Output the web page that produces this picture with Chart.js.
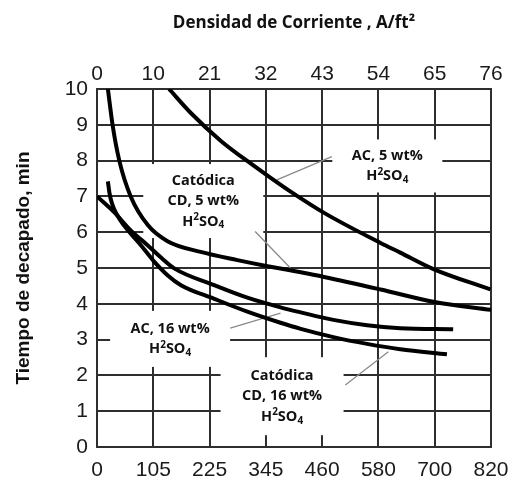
<!DOCTYPE html>
<html>
<head>
<meta charset="utf-8">
<script src="https://cdn.jsdelivr.net/npm/chart.js@4.4.1/dist/chart.umd.min.js"></script>
<style>
  html, body { margin: 0; padding: 0; background: #fff; }
  #wrap { width: 510px; height: 479px; }
</style>
</head>
<body>
<div id="wrap"><canvas id="chart"></canvas></div>
<script>
// x values are current density in A/ft2 (top axis), y values pickling time in min
var topTickLabels = ["0", "10", "21", "32", "43", "54", "65", "76"];
var bottomTickLabels = ["0", "105", "225", "345", "460", "580", "700", "820"];

var ac5Current = [13.9, 18.1, 23.9, 30.3, 32.9, 38.0, 43.8, 54.7, 58.5, 64.9, 75.9];
var ac5Time    = [10.0, 9.33, 8.55, 7.85, 7.58, 7.07, 6.54, 5.70, 5.43, 4.97, 4.40];

var cd5Current = [2.1, 3.0, 4.3, 6.5, 9.8, 13.6, 20.0, 27.1, 32.9, 39.3, 43.8, 54.7, 65.1, 76.0];
var cd5Time    = [10.0, 9.0, 8.0, 7.0, 6.2, 5.75, 5.45, 5.22, 5.05, 4.88, 4.75, 4.40, 4.05, 3.83];

var ac16Current = [0, 3.3, 6.5, 9.8, 12.6, 14.9, 22.6, 29.0, 35.4, 39.3, 45.6, 52.1, 58.5, 68.7];
var ac16Time    = [7.0, 6.56, 6.05, 5.63, 5.26, 4.99, 4.52, 4.17, 3.90, 3.76, 3.55, 3.40, 3.32, 3.29];

var cd16Current = [2.1, 2.4, 2.9, 3.8, 5.2, 8.5, 10.9, 13.6, 16.2, 22.6, 29.0, 35.4, 39.3, 45.6, 52.1, 58.5, 67.5];
var cd16Time    = [7.42, 7.1, 6.8, 6.5, 6.19, 5.63, 5.2, 4.8, 4.52, 4.14, 3.78, 3.47, 3.30, 3.07, 2.88, 2.73, 2.59];

var xMax = Number(topTickLabels[topTickLabels.length - 1]);
var tickValues = topTickLabels.map(function (_, i) { return i * xMax / (topTickLabels.length - 1); });

var gridColor = "#2e2e2e";
var tickFont = { family: "'Liberation Sans', Arial, sans-serif", size: 21 };

function zip(xs, ys) {
  return xs.map(function (x, i) { return { x: x, y: ys[i] }; });
}

function curve(label, xs, ys) {
  return {
    label: label,
    data: zip(xs, ys),
    borderColor: "#000",
    borderWidth: 4,
    pointRadius: 0,
    fill: false,
    cubicInterpolationMode: "monotone",
    borderCapStyle: "butt"
  };
}

// callouts: anchor in data units, box size in px
var notes = [
  { lines: ["Catódica", "CD, 5 wt%", "H²SO₄"], at: [20.5, 6.87], box: [120, 74], from: [30.5, 6.02], to: [37.3, 5.0] },
  { lines: ["AC, 5 wt%", "H²SO₄"], at: [56.0, 7.85], box: [110, 53], from: [45.3, 8.11], to: [34.7, 7.46] },
  { lines: ["AC, 16 wt%", "H²SO₄"], at: [14.1, 3.02], box: [120, 56], from: [25.7, 3.32], to: [35.4, 3.74] },
  { lines: ["Catódica", "CD, 16 wt%", "H²SO₄"], at: [35.7, 1.42], box: [123, 78], from: [47.9, 1.73], to: [56.2, 2.66] }
];

function drawRich(ctx, text, cx, cy, size) {
  var parts = [];
  for (var ch of text) {
    if (ch === "²") parts.push({ t: "2", d: -0.3 });
    else if (ch === "₄") parts.push({ t: "4", d: 0.28 });
    else if (parts.length && parts[parts.length - 1].d === 0) parts[parts.length - 1].t += ch;
    else parts.push({ t: ch, d: 0 });
  }
  var big = "bold " + size + "px 'Open Sans', sans-serif";
  var small = "bold " + Math.round(size * 0.72) + "px 'Open Sans', sans-serif";
  var w = 0;
  parts.forEach(function (p) {
    ctx.font = p.d ? small : big;
    p.w = ctx.measureText(p.t).width;
    w += p.w;
  });
  var x = cx - w / 2;
  ctx.textAlign = "left";
  ctx.textBaseline = "middle";
  parts.forEach(function (p) {
    ctx.font = p.d ? small : big;
    ctx.fillText(p.t, x, cy + p.d * size);
    x += p.w;
  });
}

var callouts = {
  id: "callouts",
  beforeDatasetsDraw: function (chart) {
    var ctx = chart.ctx, sx = chart.scales.x, sy = chart.scales.y;
    ctx.save();
    notes.forEach(function (n) {
      var cx = sx.getPixelForValue(n.at[0]);
      var cy = sy.getPixelForValue(n.at[1]);
      ctx.fillStyle = "#fff";
      ctx.fillRect(cx - n.box[0] / 2, cy - n.box[1] / 2, n.box[0], n.box[1]);

      ctx.strokeStyle = "#8a8a8a";
      ctx.lineWidth = 1.3;
      ctx.beginPath();
      ctx.moveTo(sx.getPixelForValue(n.from[0]), sy.getPixelForValue(n.from[1]));
      ctx.lineTo(sx.getPixelForValue(n.to[0]), sy.getPixelForValue(n.to[1]));
      ctx.stroke();

      ctx.fillStyle = "#111";
      var lh = 20.5;
      var y0 = cy - (n.lines.length - 1) * lh / 2;
      n.lines.forEach(function (t, i) { drawRich(ctx, t, cx, y0 + i * lh, 14.5); });
    });
    ctx.restore();
  }
};

new Chart(document.getElementById("chart"), {
  type: "line",
  data: {
    datasets: [
      curve("AC, 5 wt%", ac5Current, ac5Time),
      curve("Catódica CD, 5 wt%", cd5Current, cd5Time),
      curve("AC, 16 wt%", ac16Current, ac16Time),
      curve("Catódica CD, 16 wt%", cd16Current, cd16Time)
    ]
  },
  options: {
    responsive: true,
    maintainAspectRatio: false,
    animation: false,
    layout: { padding: { left: 0, right: 19, top: 0, bottom: 0 } },
    plugins: { legend: { display: false }, tooltip: { enabled: false } },
    scales: {
      x: {
        type: "linear",
        position: "bottom",
        min: 0,
        max: xMax,
        afterBuildTicks: function (s) { s.ticks = tickValues.map(function (v) { return { value: v }; }); },
        afterFit: function (s) { s.height = 32; s.paddingLeft = 0; s.paddingRight = 0; },
        ticks: {
          autoSkip: false,
          maxRotation: 0,
          padding: 11,
          color: "#1a1a1a",
          font: tickFont,
          callback: function (v, i) { return bottomTickLabels[i]; }
        },
        grid: { color: gridColor, lineWidth: 2, drawTicks: false },
        border: { color: gridColor, width: 2 }
      },
      x2: {
        type: "linear",
        position: "top",
        min: 0,
        max: xMax,
        afterBuildTicks: function (s) { s.ticks = tickValues.map(function (v) { return { value: v }; }); },
        afterFit: function (s) { s.height = 89; s.paddingLeft = 0; s.paddingRight = 0; },
        ticks: {
          autoSkip: false,
          maxRotation: 0,
          padding: 2,
          color: "#1a1a1a",
          font: tickFont,
          callback: function (v, i) { return topTickLabels[i]; }
        },
        grid: { display: false, drawTicks: false },
        border: { display: true, color: gridColor, width: 2 },
        title: {
          display: true,
          text: "Densidad de Corriente , A/ft²",
          color: "#111",
          font: { family: "'Open Sans', sans-serif", size: 17, weight: "bold" },
          padding: { top: 13, bottom: 0 }
        }
      },
      y: {
        min: 0,
        max: 10,
        afterFit: function (s) { s.width = 97; },
        ticks: { stepSize: 1, padding: 9, color: "#1a1a1a", font: tickFont },
        grid: { color: gridColor, lineWidth: 2, drawTicks: false },
        border: { color: gridColor, width: 2 },
        title: {
          display: true,
          text: "Tiempo de decapado, min",
          color: "#111",
          font: { family: "'Liberation Sans', Arial, sans-serif", size: 19, weight: "bold" },
          padding: { top: 12, bottom: 0 }
        }
      }
    }
  },
  plugins: [callouts]
});
</script>
</body>
</html>
